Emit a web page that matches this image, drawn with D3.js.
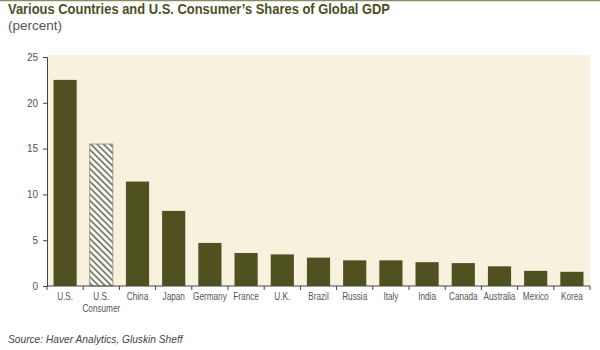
<!DOCTYPE html>
<html>
<head>
<meta charset="utf-8">
<script src="https://cdn.jsdelivr.net/npm/d3@7"></script>
<style>
  body { margin: 0; background: #fff; }
  svg { display: block; }
</style>
</head>
<body>
<div id="chart"></div>
<script>
// data
var countries = ["U.S.", "U.S.|Consumer", "China", "Japan", "Germany", "France", "U.K.", "Brazil",
                 "Russia", "Italy", "India", "Canada", "Australia", "Mexico", "Korea"];
var shares = [22.5, 15.5, 11.4, 8.2, 4.7, 3.6, 3.45, 3.1, 2.8, 2.8, 2.6, 2.5, 2.15, 1.65, 1.55];
var yTicks = [0, 5, 10, 15, 20, 25];

var width = 600, height = 350;
var margin = { top: 57, right: 10, bottom: 64, left: 47 };
var plotW = width - margin.left - margin.right;
var plotH = height - margin.top - margin.bottom;

var svg = d3.select("#chart").append("svg")
  .attr("width", width)
  .attr("height", height);

// hatch for the U.S. Consumer bar
var defs = svg.append("defs");
var pat = defs.append("pattern")
  .attr("id", "hatch")
  .attr("patternUnits", "userSpaceOnUse")
  .attr("width", 4.5)
  .attr("height", 4.5)
  .attr("patternTransform", "rotate(-45)");
pat.append("rect").attr("width", 4.5).attr("height", 4.5).attr("fill", "#fbfaf3");
pat.append("rect").attr("width", 1.6).attr("height", 4.5).attr("fill", "#6e6e66");

// top rule
svg.append("line")
  .attr("x1", 0).attr("x2", width)
  .attr("y1", 0.5).attr("y2", 0.5)
  .attr("stroke", "#8c8a66").attr("stroke-width", 1.5);

svg.append("text")
  .attr("x", 8).attr("y", 14)
  .attr("font-family", "'Liberation Sans', Arial, sans-serif")
  .attr("font-weight", "bold")
  .attr("font-size", 14.5)
  .attr("fill", "#4d4f1f")
  .attr("textLength", 382)
  .attr("lengthAdjust", "spacingAndGlyphs")
  .text("Various Countries and U.S. Consumer\u2019s Shares of Global GDP");

svg.append("text")
  .attr("x", 8).attr("y", 30)
  .attr("font-family", "'Liberation Sans', Arial, sans-serif")
  .attr("font-size", 13.5)
  .attr("fill", "#555")
  .text("(percent)");

var g = svg.append("g")
  .attr("transform", "translate(" + margin.left + "," + margin.top + ")");

var x = d3.scaleBand()
  .domain(countries)
  .range([0, plotW])
  .paddingInner(0.36)
  .paddingOuter(0.18);

var y = d3.scaleLinear()
  .domain([0, 25])
  .range([plotH, 0]);

g.append("rect")
  .attr("x", 0).attr("y", -2)
  .attr("width", plotW).attr("height", plotH + 2)
  .attr("fill", "#f8f1de");

g.selectAll("rect.bar")
  .data(countries)
  .enter()
  .append("rect")
  .attr("class", "bar")
  .attr("x", function(d) { return x(d); })
  .attr("width", x.bandwidth())
  .attr("y", function(d, i) { return y(shares[i]); })
  .attr("height", function(d, i) { return plotH - y(shares[i]); })
  .attr("fill", function(d, i) { return i == 1 ? "url(#hatch)" : "#4f5121"; })
  .attr("stroke", function(d, i) { return i == 1 ? "#8a8a80" : "none"; })
  .attr("stroke-width", 0.8);

// y axis
var yAxis = d3.axisLeft(y).tickValues(yTicks).tickSize(4).tickPadding(5);
var ya = g.append("g").call(yAxis);
ya.select(".domain").attr("stroke", "#444");
ya.selectAll(".tick line").attr("stroke", "#444");
ya.selectAll("text")
  .attr("font-family", "'Liberation Sans', Arial, sans-serif")
  .attr("font-size", 10)
  .attr("fill", "#555");

// x axis: ticks sit between categories
var xa = g.append("g").attr("transform", "translate(0," + plotH + ")");
xa.append("line")
  .attr("x1", 0).attr("x2", plotW)
  .attr("stroke", "#444");
var step = x.step();
xa.selectAll("line.tk")
  .data(d3.range(countries.length + 1))
  .enter()
  .append("line")
  .attr("class", "tk")
  .attr("x1", function(d) { return d * step; })
  .attr("x2", function(d) { return d * step; })
  .attr("y1", 0).attr("y2", 4)
  .attr("stroke", "#444");

// labels are squeezed horizontally like the narrow face in the original
var lbl = xa.selectAll("text")
  .data(countries)
  .enter()
  .append("text")
  .attr("transform", function(d) { return "translate(" + (x(d) + x.bandwidth() / 2) + ",14) scale(0.78,1)"; })
  .attr("text-anchor", "middle")
  .attr("font-family", "'Liberation Sans', Arial, sans-serif")
  .attr("font-size", 10.5)
  .attr("fill", "#555");
lbl.each(function(d) {
  var parts = d.split("|");
  var t = d3.select(this);
  parts.forEach(function(p, k) {
    t.append("tspan")
      .attr("x", 0)
      .attr("dy", k == 0 ? 0 : 12)
      .text(p);
  });
});

svg.append("text")
  .attr("x", 8).attr("y", 343)
  .attr("font-family", "'Liberation Sans', Arial, sans-serif")
  .attr("font-style", "italic")
  .attr("font-size", 10.2)
  .attr("fill", "#444")
  .text("Source: Haver Analytics, Gluskin Sheff");
</script>
</body>
</html>
